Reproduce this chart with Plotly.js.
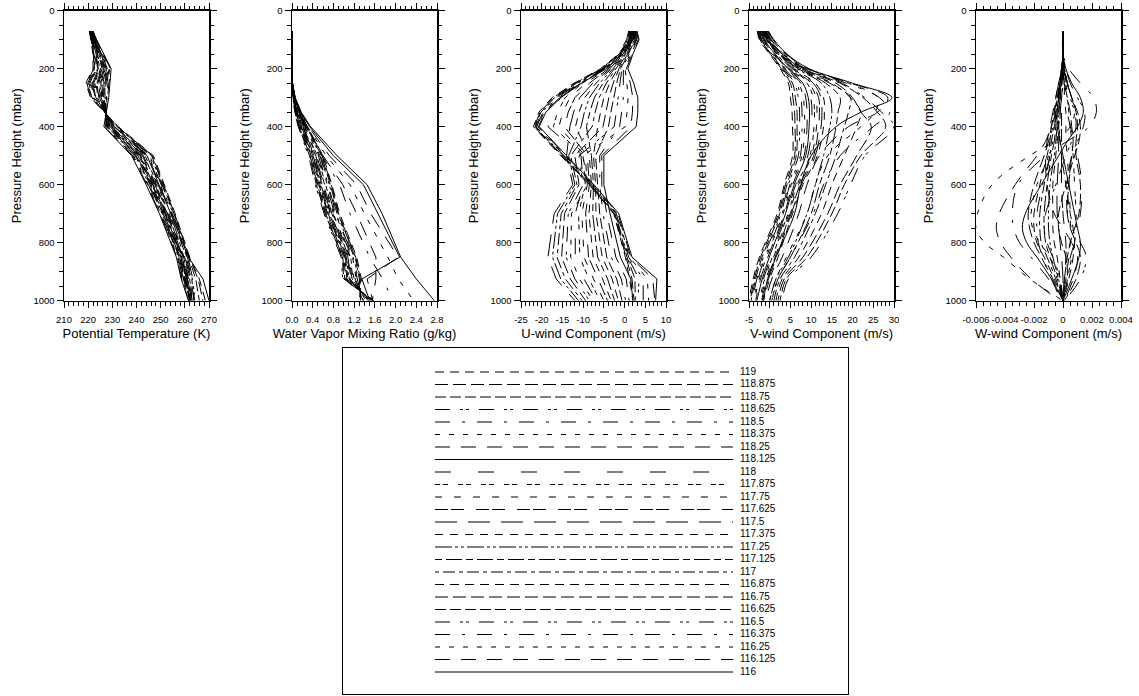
<!DOCTYPE html>
<html><head><meta charset="utf-8">
<script src="https://cdn.plot.ly/plotly-3.0.1.min.js"></script>
<style>html,body{margin:0;padding:0;background:#fff}#chart{width:1139px;height:696px}</style>
</head><body><div id="chart"></div>
<script>
// ---------------- DATA ----------------
const seriesLabels = ['116','116.125','116.25','116.375','116.5','116.625','116.75','116.875','117','117.125','117.25','117.375','117.5','117.625','117.75','117.875','118','118.125','118.25','118.375','118.5','118.625','118.75','118.875','119'];

// pressure levels (mbar)
const plev  = [70,100,150,200,250,300,350,400,500,600,700,850,925,1000];
const plevW = [70,150,200,250,300,350,400,450,500,600,700,750,800,850,925,1000];

// Potential temperature (K), one row per series, columns = plev
const theta = [
 [222.0,223.5,226.5,229.5,229.0,228.5,227.5,226.5,238.0,244.0,249.5,256.5,258.5,261.5],
 [221.9,223.4,226.3,229.2,228.6,228.2,227.5,226.75,238.4,244.3,249.8,256.7,258.7,261.6],
 [221.9,223.3,226.1,228.9,228.2,227.9,227.4,227.0,238.75,244.6,250.0,256.95,258.95,261.75],
 [221.8,223.2,225.9,228.6,227.75,227.6,227.4,227.25,239.1,244.9,250.3,257.2,259.2,261.9],
 [221.75,223.1,225.75,228.25,227.3,227.25,227.4,227.5,239.5,245.25,250.6,257.4,259.4,262.0],
 [221.7,223.0,225.55,227.95,226.9,226.95,227.35,227.75,239.9,245.55,250.85,257.65,259.65,262.1],
 [221.6,222.9,225.4,227.6,226.5,226.6,227.3,228.0,240.25,245.9,251.1,257.9,259.9,262.25],
 [221.6,222.8,225.2,227.3,226.1,226.3,227.3,228.25,240.6,246.2,251.4,258.1,260.1,262.4],
 [221.5,222.7,225.0,227.0,225.7,226.0,227.25,228.5,241.0,246.5,251.7,258.35,260.35,262.5],
 [221.4,222.6,224.8,226.7,225.25,225.7,227.2,228.75,241.4,246.8,251.95,258.6,260.6,262.6],
 [221.4,222.5,224.6,226.4,224.8,225.4,227.2,229.0,241.75,247.1,252.2,258.8,260.8,262.75],
 [221.3,222.4,224.4,226.05,224.4,225.05,227.15,229.25,242.1,247.45,252.5,259.0,261.0,262.9],
 [221.25,222.25,224.25,225.75,224.0,224.75,227.1,229.5,242.5,247.75,252.75,259.25,261.25,263.0],
 [221.2,222.15,224.05,225.45,223.6,224.45,227.1,229.75,242.9,248.05,253.0,259.5,261.5,263.1],
 [221.1,222.05,223.9,225.1,223.2,224.1,227.05,230.0,243.25,248.4,253.3,259.7,261.7,263.25],
 [221.1,221.95,223.7,224.8,222.75,223.8,227.0,230.25,243.6,248.7,253.6,259.95,261.95,263.4],
 [221.0,221.85,223.5,224.5,222.3,223.5,227.0,230.5,244.0,249.0,253.85,260.2,262.2,263.5],
 [220.9,221.75,223.3,224.2,221.9,223.2,226.95,230.75,244.4,249.3,254.1,261.5,267.5,270.0],
 [220.9,221.6,223.1,223.9,221.5,222.9,226.9,231.0,244.75,249.6,254.4,260.6,262.6,263.75],
 [220.8,221.5,222.9,223.55,221.1,222.55,226.9,231.25,245.1,249.95,254.65,260.85,262.85,263.9],
 [220.8,221.4,222.75,223.25,220.7,222.25,226.85,231.5,245.5,250.25,254.9,261.1,263.1,264.0],
 [220.7,221.3,222.55,222.95,220.25,221.95,226.8,231.75,245.9,250.55,255.2,261.3,263.3,264.1],
 [220.6,221.2,222.4,222.6,219.8,221.6,226.8,232.0,246.25,250.9,255.5,261.55,264.5,266.0],
 [220.6,221.1,222.2,222.3,219.4,221.3,226.75,232.25,246.6,251.2,255.75,261.8,265.5,267.5],
 [220.5,221.0,222.0,222.0,219.0,221.0,226.7,232.5,247.0,251.5,256.0,262.0,266.0,268.5]
];

// Water vapour mixing ratio (g/kg), columns = plev
const qvapor = [
 [0,0,0,0,0.01,0.06,0.18,0.36,0.87,1.45,1.74,2.10,2.40,2.75],
 [0,0,0,0,0.01,0.05,0.16,0.32,0.72,1.25,1.52,2.05,1.45,1.56],
 [0,0,0,0,0.01,0.05,0.15,0.30,0.66,1.12,1.40,1.85,2.05,2.35],
 [0,0,0,0,0.01,0.04,0.12,0.26,0.58,0.92,1.12,1.50,1.75,1.95],
 [0,0,0,0,0,0.020,0.050,0.12,0.32,0.45,0.62,0.95,0.98,1.60],
 [0,0,0,0,0,0.022,0.056,0.13,0.34,0.47,0.64,0.97,1.00,1.58],
 [0,0,0,0,0,0.024,0.061,0.14,0.35,0.49,0.65,0.98,1.02,1.57],
 [0,0,0,0,0,0.027,0.067,0.15,0.37,0.50,0.67,1.00,1.04,1.55],
 [0,0,0,0,0,0.029,0.072,0.16,0.38,0.52,0.69,1.02,1.06,1.53],
 [0,0,0,0,0,0.031,0.078,0.17,0.40,0.54,0.70,1.03,1.08,1.52],
 [0,0,0,0,0,0.033,0.083,0.18,0.41,0.56,0.72,1.05,1.10,1.50],
 [0,0,0,0,0,0.035,0.089,0.19,0.43,0.58,0.74,1.07,1.12,1.48],
 [0,0,0,0,0,0.038,0.094,0.20,0.44,0.59,0.75,1.08,1.14,1.47],
 [0,0,0,0,0,0.040,0.100,0.21,0.46,0.61,0.77,1.10,1.16,1.45],
 [0,0,0,0,0.005,0.042,0.105,0.22,0.48,0.63,0.79,1.12,1.18,1.43],
 [0,0,0,0,0.005,0.044,0.111,0.23,0.49,0.65,0.80,1.13,1.20,1.42],
 [0,0,0,0,0.005,0.046,0.116,0.24,0.51,0.67,0.82,1.15,1.22,1.40],
 [0,0,0,0,0.01,0.06,0.17,0.34,0.80,1.38,1.66,2.08,1.35,1.50],
 [0,0,0,0,0.01,0.04,0.13,0.28,0.60,0.98,1.25,1.62,1.62,1.55],
 [0,0,0,0,0.005,0.049,0.122,0.25,0.52,0.68,0.84,1.17,1.24,1.38],
 [0,0,0,0,0.005,0.051,0.127,0.26,0.54,0.70,0.85,1.18,1.26,1.37],
 [0,0,0,0,0.008,0.053,0.133,0.27,0.55,0.72,0.87,1.20,1.28,1.35],
 [0,0,0,0,0.008,0.055,0.138,0.28,0.57,0.74,0.89,1.22,1.30,1.33],
 [0,0,0,0,0.008,0.057,0.144,0.29,0.58,0.76,0.90,1.23,1.32,1.32],
 [0,0,0,0,0.01,0.060,0.150,0.30,0.60,0.77,0.92,1.25,1.34,1.30]
];

// U-wind (m/s), columns = plev
const uwind = [
 [3.0,3.5,2.0,0.8,2.2,3.2,3.2,2.8,-5.0,-5.0,-3.5,-1.0,1.5,2.0],
 [2.9,3.3,1.8,0.45,1.4,2.0,1.9,1.5,-5.5,-5.5,-4.3,-2.1,0.4,1.1],
 [2.75,3.1,1.55,0.1,0.55,0.85,0.6,0.15,-10,-9,-12.8,-13.0,-10.9,-7.6],
 [2.6,2.95,1.35,-0.3,-0.3,-0.3,-0.7,-1.2,-6,-6,-5.2,-3.2,-0.8,0.25],
 [2.5,2.75,1.1,-0.65,-1.1,-1.5,-2.0,-2.5,-11,-10,-13.6,-14.1,-12.0,-8.5],
 [2.4,2.55,0.9,-1.0,-1.9,-2.65,-3.3,-3.9,-7,-6.5,-6.0,-4.3,-1.9,-0.6],
 [2.25,2.4,0.7,-1.35,-2.75,-3.8,-4.5,-5.2,-12,-11,-14.5,-15.2,-13.1,-9.4],
 [2.1,2.2,0.45,-1.7,-3.6,-5.0,-5.8,-6.5,-7.5,-7,-6.9,-5.4,-3.0,-1.5],
 [2.0,2.0,0.25,-2.1,-4.4,-6.15,-7.1,-7.85,-13,-11.5,-15.3,-16.3,-14.3,-10.25],
 [1.9,1.8,0.0,-2.45,-5.2,-7.3,-8.4,-9.2,-8,-7.5,-7.7,-6.5,-4.1,-2.4],
 [1.75,1.6,-0.2,-2.8,-6.05,-8.5,-9.7,-10.5,-13.5,-12,-16.2,-17.4,-15.4,-11.1],
 [1.6,1.45,-0.4,-3.2,-6.9,-9.65,-11.0,-11.85,-8.5,-8,-8.6,-7.6,-5.3,-3.25],
 [1.5,1.25,-0.65,-3.5,-7.7,-10.8,-12.3,-13.2,-14,-12.5,-17,-18.5,-16.5,-12],
 [1.4,1.05,-0.85,-3.9,-8.5,-12.0,-13.6,-14.5,-9,-8.5,-9.4,-8.7,-6.4,-4.1],
 [1.25,0.9,-1.1,-4.25,-9.35,-13.2,-14.9,-15.85,-9.5,-9,-10.3,-9.8,-7.5,-5.0],
 [1.1,0.7,-1.3,-4.6,-10.2,-14.35,-16.2,-17.2,-10,-9.5,-11.1,-10.8,-8.6,-5.9],
 [1.0,0.5,-1.5,-5.0,-11.0,-15.5,-17.5,-18.5,-10.5,-10,-11.9,-11.9,-9.8,-6.75],
 [2.6,2.0,-0.4,-4.4,-10.4,-15.4,-19.0,-20.6,-14.0,-7.4,-1.4,1.8,7.8,7.5],
 [2.5,1.8,-0.6,-4.6,-10.6,-15.7,-19.2,-20.8,-14.2,-7.6,-1.6,1.5,6.8,7.3],
 [2.4,1.7,-0.7,-4.8,-10.8,-16.0,-19.4,-21.0,-14.4,-7.8,-1.8,1.2,5.5,5.8],
 [2.3,1.5,-0.9,-5.0,-11.0,-16.3,-19.7,-21.2,-14.6,-8.0,-2.0,1.0,4.5,4.5],
 [2.2,1.4,-1.0,-5.2,-11.3,-16.6,-20.0,-21.4,-14.8,-8.2,-2.2,0.8,3.5,3.2],
 [2.1,1.2,-1.2,-5.4,-11.6,-16.9,-20.2,-21.6,-15.0,-8.3,-2.3,0.6,2.5,2.6],
 [2.0,1.1,-1.3,-5.6,-11.9,-17.2,-20.4,-21.8,-15.2,-8.5,-2.5,0.4,1.8,2.3],
 [1.9,1.0,-1.5,-5.8,-12.2,-17.5,-20.7,-22.0,-15.4,-8.6,-2.6,0.2,1.2,2.0]
];

// V-wind (m/s), columns = plev
const vwind = [
 [-0.3,1.0,4.2,9.5,20,29.5,22,16,10,7.5,6,1.5,-0.5,-1.5],
 [-0.5,0.8,4.0,9.2,19.5,28.5,26,19,12,9,7,3,0.5,-1.0],
 [-0.6,0.6,3.8,9.0,19,26,25.5,22,14,11,9,4,1.5,0.0],
 [-0.8,0.4,3.6,8.7,18.5,26.5,29,25,17,13,10.5,5,2,0.5],
 [-1.0,0.3,3.4,8.4,17.5,23,27,30,23,19.5,16.4,10,4.5,3.0],
 [-1.1,0.1,3.2,8.1,17,22.5,26,28,22,18,15,9,4,2.5],
 [-1.3,0.0,3.0,7.8,16,20,22,24.5,21,17,14,8,3.5,2.0],
 [-1.4,-0.2,2.8,7.5,15,19.5,22,21,18,15,12.5,7,3,1.5],
 [-1.6,-0.3,2.6,7.2,14.5,19.5,19,18,16,13.5,11,6,2.5,1.0],
 [-1.7,-0.5,2.4,6.9,13.5,17,16.5,16,14.5,12,10,5,2,0.5],
 [-1.9,-0.6,2.2,6.6,12.5,14.5,15,14.5,13,11,9,4.5,1.5,0.0],
 [-1.0,-0.5,2.5,6.0,11.0,13.0,13.2,13.0,11.5,8.0,5.5,2.0,0.0,-1.5],
 [-1.15,-0.65,2.3,5.7,10.5,12.4,12.6,12.4,11.0,7.65,5.2,1.65,-0.3,-1.8],
 [-1.3,-0.8,2.1,5.45,10.0,11.8,12.0,11.8,10.6,7.3,4.95,1.3,-0.6,-2.0],
 [-1.45,-0.95,1.9,5.2,9.5,11.2,11.4,11.3,10.1,6.95,4.65,0.95,-0.9,-2.3],
 [-1.6,-1.1,1.75,4.9,9.0,10.5,10.8,10.7,9.7,6.6,4.4,0.6,-1.2,-2.6],
 [-1.75,-1.25,1.55,4.65,8.5,9.9,10.2,10.1,9.2,6.25,4.1,0.25,-1.5,-2.9],
 [-1.9,-1.4,1.35,4.4,8.0,9.3,9.6,9.5,8.7,5.9,3.8,-0.1,-1.8,-3.1],
 [-2.1,-1.6,1.15,4.1,7.5,8.7,9.0,9.0,8.3,5.55,3.55,-0.45,-2.2,-3.4],
 [-2.25,-1.75,0.95,3.85,7.0,8.1,8.4,8.4,7.8,5.2,3.25,-0.8,-2.5,-3.7],
 [-2.4,-1.9,0.75,3.6,6.5,7.5,7.8,7.8,7.4,4.85,3.0,-1.15,-2.8,-3.9],
 [-2.55,-2.05,0.6,3.3,6.0,6.9,7.2,7.2,6.9,4.5,2.7,-1.5,-3.1,-4.2],
 [-2.7,-2.2,0.4,3.05,5.5,6.2,6.6,6.6,6.4,4.15,2.4,-1.85,-3.4,-4.5],
 [-2.85,-2.35,0.2,2.8,5.0,5.6,6.0,6.1,6.0,3.8,2.1,-2.2,-3.7,-4.7],
 [-3.0,-2.5,0.0,2.5,4.5,5.0,5.4,5.5,5.5,3.5,1.8,-2.5,-4.0,-5.0]
];

// W-wind (m/s), columns = plevW
const wwind = [
 [0,0,0.0002,0.0006,0.0012,0.0014,0.0010,0.0003,-0.0003,-0.0015,-0.0026,-0.0028,-0.0025,-0.0018,-0.0008,0],
 [0,0,0,-0.0001,-0.0003,-0.0005,-0.0008,-0.0012,-0.0018,-0.0033,-0.0044,-0.0046,-0.0043,-0.0036,-0.0022,-0.0002],
 [0,0,0.0001,0.0003,0.0006,0.0008,0.0005,-0.0006,-0.0023,-0.0049,-0.0059,-0.0060,-0.0054,-0.0041,-0.0023,0],
 [0,0,0.0004,0.0012,0.0021,0.0023,0.0018,0.0003,-0.0012,-0.0031,-0.0035,-0.0034,-0.0030,-0.0022,-0.0010,0],
 [0,0,0.0002,0.0005,0.0010,0.0015,0.0014,0.0010,0.0006,0.0003,0.0003,0.0006,0.0012,0.0016,0.0012,0.0001],
 [0,0,0.0001,0.0003,0.0006,0.0009,0.0010,0.0009,0.0009,0.0012,0.0011,0.0008,0.0005,0.0003,0.0001,0],
 [0,0,-0.0001,-0.0002,-0.0004,-0.0006,-0.0008,-0.0010,-0.0013,-0.0020,-0.0024,-0.0023,-0.0020,-0.0015,-0.0007,0],
 [0,0,-0.0001,-0.0003,-0.0005,-0.0006,-0.0008,-0.0009,-0.0011,-0.0016,-0.0020,-0.0020,-0.0018,-0.0013,-0.0006,0],
 [0,0,-0.0001,-0.0002,-0.0004,-0.0005,-0.0006,-0.0008,-0.0009,-0.0013,-0.0016,-0.0016,-0.0015,-0.0011,-0.0005,0],
 [0,0,0,-0.0002,-0.0003,-0.0004,-0.0005,-0.0006,-0.0008,-0.0011,-0.0013,-0.0013,-0.0012,-0.0009,-0.0004,0],
 [0,0,0,-0.0001,-0.0002,-0.0003,-0.0004,-0.0005,-0.0006,-0.0009,-0.0010,-0.0010,-0.0009,-0.0007,-0.0003,0],
 [0,0,0,-0.0001,-0.0002,-0.0003,-0.0003,-0.0004,-0.0005,-0.0007,-0.0007,-0.0007,-0.0006,-0.0004,-0.0002,0],
 [0,0,0,-0.0001,-0.0001,-0.0002,-0.0002,-0.0003,-0.0003,-0.0004,-0.0004,-0.0003,-0.0002,-0.0001,0,0],
 [0,0,0,0,-0.0001,-0.0001,-0.0001,-0.0001,-0.0001,-0.0001,0,0.0001,0.0002,0.0002,0.0001,0],
 [0,0,0.0001,0.0001,0.0001,0.0002,0.0002,0.0002,0.0003,0.0004,0.0005,0.0005,0.0005,0.0004,0.0002,0],
 [0,0,0.0001,0.0002,0.0003,0.0004,0.0005,0.0006,0.0007,0.0008,0.0009,0.0009,0.0008,0.0006,0.0003,0],
 [0,0,0,0.0001,0.0002,0.0003,0.0005,0.0008,0.0010,0.0013,0.0012,0.0010,0.0008,0.0005,0.0002,0],
 [0,0,-0.0001,-0.0002,-0.0003,-0.0004,-0.0004,-0.0002,0,0.0004,0.0008,0.0010,0.0012,0.0011,0.0006,0],
 [0,0,-0.0001,-0.0003,-0.0005,-0.0007,-0.0009,-0.0011,-0.0012,-0.0011,-0.0006,0,0.0006,0.0010,0.0007,0.0001],
 [0,0,0,-0.0002,-0.0004,-0.0005,-0.0007,-0.0009,-0.0010,-0.0018,-0.0022,-0.0021,-0.0016,-0.0009,-0.0003,0],
 [0,0,-0.0001,-0.0002,-0.0003,-0.0004,-0.0006,-0.0007,-0.0009,-0.0014,-0.0018,-0.0018,-0.0017,-0.0014,-0.0008,-0.0001],
 [0,0,0.0001,0.0003,0.0005,0.0008,0.0009,0.0006,0.0002,-0.0005,-0.0012,-0.0013,-0.0011,-0.0007,-0.0002,0],
 [0,0,0.0001,0.0003,0.0006,0.0010,0.0012,0.0011,0.0008,0.0002,-0.0003,-0.0003,-0.0001,0.0002,0.0003,0],
 [0,0,0,0.0001,0.0003,0.0005,0.0006,0.0007,0.0006,0.0004,0.0003,0.0005,0.0009,0.0012,0.0009,0.0001],
 [0,0,0,-0.0001,-0.0002,-0.0002,-0.0003,-0.0002,-0.0001,0.0002,0.0005,0.0007,0.0008,0.0007,0.0004,0]
];

// tick labels
const pTicks = [0,200,400,600,800,1000];
const pTickText = ['0','200','400','600','800','1000'];
const thetaTicks = [210,220,230,240,250,260,270];
const thetaTickText = ['210','220','230','240','250','260','270'];
const qTicks = [0,0.4,0.8,1.2,1.6,2.0,2.4,2.8];
const qTickText = ['0.0','0.4','0.8','1.2','1.6','2.0','2.4','2.8'];
const uTicks = [-25,-20,-15,-10,-5,0,5,10];
const uTickText = ['-25','-20','-15','-10','-5','0','5','10'];
const vTicks = [-5,0,5,10,15,20,25,30];
const vTickText = ['-5','0','5','10','15','20','25','30'];
const wTicks = [-0.006,-0.004,-0.002,0,0.002,0.004];
const wTickText = ['-0.006','-0.004','-0.002','0','0.002','0.004'];

// ---------------- STYLE / LAYOUT ----------------
const dashPatterns = ['solid','15px,11px','5px,9px','15px,12px,3px,12px','15px,10px,3px,3px,3px,10px',
 '11px,4px','13px,5px','9px,6px','4px,4px,12px,4px','7px,4px,16px,4px','17px,3px,3px,3px,3px,3px',
 '8px,7px','22px,11px','13px,3px,13px,12px','7px,12px','5px,3px,5px,10px','16px,27px'];

const W = 1139, H = 696;
const panelLeft = [64, 292, 521, 749, 976], panelWidth = 145;
const plotTop = 10.7, plotBottom = 300.7;
const FONT = '"Liberation Sans", Arial, Helvetica, sans-serif';

const panels = [
 {data: theta,  lev: plev,  title: 'Potential Temperature (K)',     range: [210,270],      tv: thetaTicks, tt: thetaTickText, minor: 2,      shape: 'linear'},
 {data: qvapor, lev: plev,  title: 'Water Vapor Mixing Ratio (g/kg)', range: [0,2.8],      tv: qTicks,     tt: qTickText,     minor: 0.1,    shape: 'linear'},
 {data: uwind,  lev: plev,  title: 'U-wind Component (m/s)',        range: [-25,10],       tv: uTicks,     tt: uTickText,     minor: 1,      shape: 'linear'},
 {data: vwind,  lev: plev,  title: 'V-wind Component (m/s)',        range: [-5,30],        tv: vTicks,     tt: vTickText,     minor: 1,      shape: 'spline'},
 {data: wwind,  lev: plevW, title: 'W-wind Component (m/s)',        range: [-0.006,0.004], tv: wTicks,     tt: wTickText,     minor: 0.0005, shape: 'spline'}
];

const traces = [];
const layout = {
  width: W, height: H,
  margin: {l:0, r:0, t:0, b:0},
  paper_bgcolor: '#fff', plot_bgcolor: '#fff',
  font: {family: FONT, color: '#000', size: 10},
  showlegend: false
};

const axisCommon = {
  ticks: 'outside', ticklen: 6, tickwidth: 1, tickcolor: '#000',
  showline: true, linecolor: '#000', linewidth: 1.5, mirror: 'allticks',
  showgrid: false, zeroline: false, automargin: false, fixedrange: true,
  tickfont: {size: 9.5, family: FONT, color: '#000'}
};

panels.forEach((p, i) => {
  const k = i + 1;
  const l = panelLeft[i];
  layout['xaxis' + k] = Object.assign({}, axisCommon, {
    domain: [l / W, (l + panelWidth) / W],
    range: p.range, anchor: 'y' + k,
    tickmode: 'array', tickvals: p.tv, ticktext: p.tt, ticklabelstandoff: 3,
    minor: {tick0: p.range[0], dtick: p.minor, ticks: 'outside', ticklen: 3.5, tickwidth: 1, tickcolor: '#000', showgrid: false},
    title: {text: p.title, font: {size: 13, family: FONT, color: '#000'}, standoff: 5}
  });
  layout['yaxis' + k] = Object.assign({}, axisCommon, {
    domain: [1 - plotBottom / H, 1 - plotTop / H],
    range: [1000, 0], anchor: 'x' + k,
    tickmode: 'array', tickvals: pTicks, ticktext: pTickText,
    minor: {tick0: 0, dtick: 50, ticks: 'outside', ticklen: 3.5, tickwidth: 1, tickcolor: '#000', showgrid: false},
    title: {text: 'Pressure Height (mbar)', font: {size: 13, family: FONT, color: '#000'}, standoff: 9}
  });
  p.data.forEach((row, s) => {
    traces.push({
      type: 'scatter', mode: 'lines', x: row, y: p.lev,
      xaxis: 'x' + k, yaxis: 'y' + k,
      line: {color: '#000', width: 1, dash: dashPatterns[s % dashPatterns.length], shape: p.shape, smoothing: 1},
      hoverinfo: 'skip', name: seriesLabels[s]
    });
  });
});

// legend box as its own subplot (pixel coordinates)
const box = {x0: 343, x1: 848, y0: 348, y1: 694};
layout.xaxis6 = {domain: [box.x0 / W, box.x1 / W], range: [box.x0, box.x1], anchor: 'y6',
  showline: true, linecolor: '#000', linewidth: 1, mirror: true, ticks: '', showticklabels: false,
  showgrid: false, zeroline: false, fixedrange: true};
layout.yaxis6 = {domain: [1 - box.y1 / H, 1 - box.y0 / H], range: [box.y1, box.y0], anchor: 'x6',
  showline: true, linecolor: '#000', linewidth: 1, mirror: true, ticks: '', showticklabels: false,
  showgrid: false, zeroline: false, fixedrange: true};

const legX0 = 435, legX1 = 733, legTextX = 740, legRow0 = 672, legStep = 12.5;
const legY = seriesLabels.map((_, s) => legRow0 - legStep * s);
seriesLabels.forEach((lab, s) => {
  traces.push({
    type: 'scatter', mode: 'lines', x: [legX0, legX1], y: [legY[s], legY[s]],
    xaxis: 'x6', yaxis: 'y6',
    line: {color: '#000', width: 1, dash: dashPatterns[s % dashPatterns.length]},
    hoverinfo: 'skip'
  });
});
traces.push({
  type: 'scatter', mode: 'text', x: seriesLabels.map(() => legTextX), y: legY,
  text: seriesLabels, textposition: 'middle right',
  textfont: {size: 10, family: FONT, color: '#000'},
  xaxis: 'x6', yaxis: 'y6', hoverinfo: 'skip', cliponaxis: false
});

Plotly.newPlot('chart', traces, layout, {displayModeBar: false, staticPlot: true});
</script></body></html>
